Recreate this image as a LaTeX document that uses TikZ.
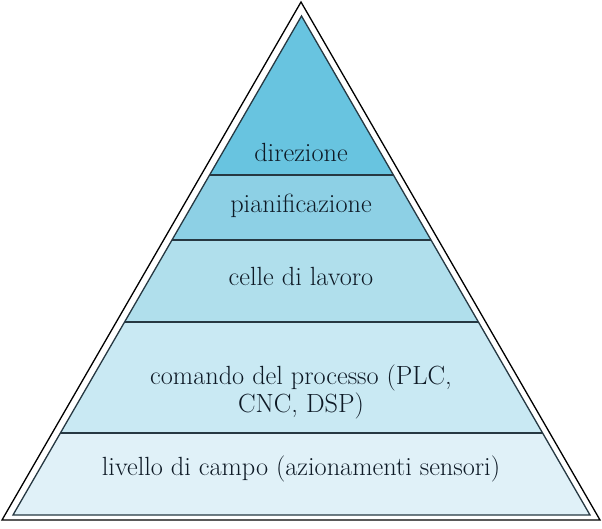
\documentclass[tikz,border=0pt]{standalone}
\usetikzlibrary{calc}
\definecolor{pdir}{RGB}{104,196,224}
\definecolor{ppian}{RGB}{141,208,229}
\definecolor{pcelle}{RGB}{176,223,236}
\definecolor{pcmd}{RGB}{201,233,243}
\definecolor{pcampo}{RGB}{224,241,248}
\definecolor{ptext}{RGB}{14,26,38}
\definecolor{pline}{RGB}{38,56,66}

\begin{document}
\begin{tikzpicture}[x=1pt,y=-1pt,
  font=\fontsize{26.3}{27.5}\selectfont,
  every node/.style={text=ptext},
  level/.style={align=center,anchor=base,inner sep=0pt},
  band/.style={draw=pline,line width=1.4pt}]
\useasboundingbox (0,0) rectangle (602,529);

% ---- outer frame ----
\draw[line width=1.3pt] (301,2) -- (600,520) -- (2,520) -- cycle;

% ---- inner pyramid ----
\coordinate (top) at (301.5,16);
\coordinate (left) at (13,515);
\coordinate (right) at (590,515);
\begin{scope}
  \clip (top) -- (right) -- (left) -- cycle;
  \fill[pdir] (0,0) rectangle (602,175);
  \fill[ppian] (0,175) rectangle (602,240);
  \fill[pcelle] (0,240) rectangle (602,322);
  \fill[pcmd] (0,322) rectangle (602,433);
  \fill[pcampo] (0,433) rectangle (602,529);
  \foreach \y in {175,240,322,433}
    \draw[band] (0,\y) -- (602,\y);
\end{scope}
\draw[pline,line width=1.3pt] (top) -- (right) -- (left) -- cycle;

% ---- levels ----
\node[level] (dir) at (301,162) {direzione};
\node[level] (pian) at (301,213) {pianificazione};
\node[level] (celle) at (301,285) {celle di lavoro};
\node[level,anchor=center] (cmd) at (301,392) {comando del processo (PLC,\\CNC, DSP)};
\node[level] (campo) at (301,475) {livello di campo (azionamenti sensori)};
\end{tikzpicture}
\end{document}
